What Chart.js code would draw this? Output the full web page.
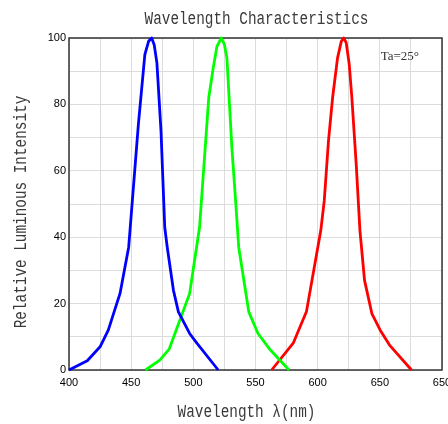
<!DOCTYPE html>
<html>
<head>
<meta charset="utf-8">
<script src="https://cdn.jsdelivr.net/npm/chart.js@4.4.1/dist/chart.umd.min.js"></script>
<style>
html,body{margin:0;padding:0;background:#fff;}
#wrap{width:448px;height:424px;}
</style>
</head>
<body>
<div id="wrap"><canvas id="c" width="448" height="424"></canvas></div>
<script>
// Data (wavelength nm -> relative intensity %)
const blueX  = [400, 414.7, 425, 431.6, 438.4, 441, 448, 455.8, 461, 464, 466.5, 468.5, 470.7, 474, 477, 479, 484, 488, 497, 503, 520];
const blueY  = [0, 2.8, 7, 12, 20, 23, 37, 74, 95, 99, 100, 98, 92.5, 72, 43, 37, 24, 17.5, 11, 8, 0];
const greenX = [461.5, 473, 480.6, 497, 505, 512.4, 516, 519, 522.5, 525, 527, 531, 534, 536.5, 544.6, 552, 562, 577];
const greenY = [0, 3, 6.3, 23, 43, 82, 91, 97.5, 100, 98, 94, 67, 51, 37, 17.5, 11, 6, 0];
const redX   = [563, 580.5, 591, 602.5, 605.3, 608.7, 612, 616, 619, 621, 623, 625.4, 627.5, 631, 634, 637.7, 643.6, 650.3, 657.8, 675.5];
const redY   = [0, 8.2, 17.6, 42, 51, 69, 82, 94, 99, 100, 98.5, 92, 82, 62, 42, 27, 17, 12, 7.5, 0];
const xTickValues = [400, 450, 500, 550, 600, 650, 700];
const xTickLabels = ['400', '450', '500', '550', '600', '650', '650'];
const yTickValues = [0, 20, 40, 60, 80, 100];
const yTickLabels = ['0', '20', '40', '60', '80', '100'];
const titleText = 'Wavelength Characteristics';
const xTitle = 'Wavelength λ(nm)';
const yTitle = 'Relative Luminous Intensity';
const noteText = 'Ta=25°';

const toPts = (xs, ys) => xs.map((x, i) => ({x: x, y: ys[i]}));

function drawLabel(ctx, text, x, y, rot) {
  ctx.save();
  ctx.translate(x, y);
  ctx.rotate(rot);
  ctx.scale(0.82, 1);
  ctx.fillStyle = '#3a3a3a';
  ctx.font = '17.5px "Liberation Mono"';
  ctx.textAlign = 'center';
  ctx.textBaseline = 'alphabetic';
  ctx.fillText(text, 0, 0);
  ctx.restore();
}

const decoPlugin = {
  id: 'deco',
  beforeDatasetsDraw(chart) {
    const {ctx, chartArea: a} = chart;
    ctx.save();
    ctx.strokeStyle = '#333';
    ctx.lineWidth = 1.5;
    ctx.strokeRect(a.left, a.top, a.right - a.left, a.bottom - a.top);
    ctx.restore();
  },
  afterDraw(chart) {
    const {ctx, chartArea: a} = chart;
    const cx = (a.left + a.right) / 2;
    drawLabel(ctx, titleText, cx + 1, a.top - 14, 0);
    drawLabel(ctx, xTitle, cx - 9, a.bottom + 47, 0);
    drawLabel(ctx, yTitle, a.left - 43, (a.top + a.bottom) / 2 + 8, -Math.PI / 2);
    ctx.save();
    ctx.fillStyle = '#333';
    ctx.font = '13px "Liberation Serif"';
    ctx.textAlign = 'right';
    ctx.textBaseline = 'middle';
    ctx.fillText(noteText, a.right - 23, a.top + 19);
    ctx.restore();
  }
};

new Chart(document.getElementById('c'), {
  type: 'line',
  data: {
    datasets: [
      {data: toPts(blueX, blueY), borderColor: '#0000ff'},
      {data: toPts(greenX, greenY), borderColor: '#00ff00'},
      {data: toPts(redX, redY), borderColor: '#ff0000'}
    ].map(d => Object.assign(d, {borderWidth: 2.8, pointRadius: 0, tension: 0, fill: false, clip: 4, borderJoinStyle: 'round'}))
  },
  options: {
    responsive: false,
    animation: false,
    layout: {padding: {left: 0, right: 6, top: 38, bottom: 0}},
    plugins: {
      legend: {display: false},
      tooltip: {enabled: false},
      title: {display: false}
    },
    scales: {
      x: {
        type: 'linear', min: 400, max: 700,
        afterFit(s) { s.height = 54; s.paddingLeft = 0; s.paddingRight = 0; },
        grid: {color: '#dcdcdc', lineWidth: 1, drawTicks: false},
        border: {display: false},
        ticks: {
          stepSize: 25, padding: 6, color: '#000', maxRotation: 0, autoSkip: false,
          font: {family: '"Liberation Sans"', size: 11},
          callback: v => { const i = xTickValues.indexOf(v); return i >= 0 ? xTickLabels[i] : ''; }
        }
      },
      y: {
        min: 0, max: 100,
        afterFit(s) { s.width = 69; s.paddingTop = 0; s.paddingBottom = 0; },
        grid: {color: '#dcdcdc', lineWidth: 1, drawTicks: false},
        border: {display: false},
        ticks: {
          stepSize: 10, padding: 3, color: '#000',
          font: {family: '"Liberation Sans"', size: 11},
          callback: v => { const i = yTickValues.indexOf(v); return i >= 0 ? yTickLabels[i] : ''; }
        }
      }
    }
  },
  plugins: [decoPlugin]
});
</script>
</body>
</html>
